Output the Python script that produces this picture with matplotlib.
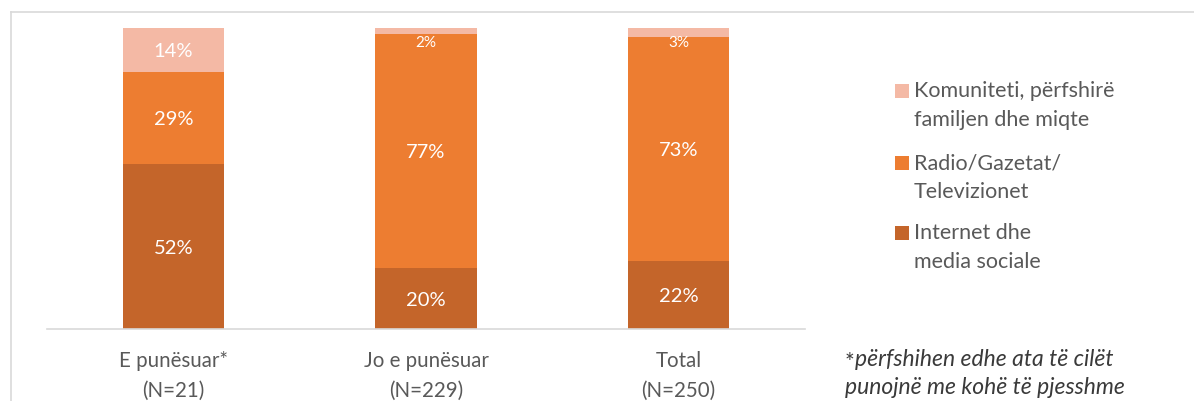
import matplotlib.pyplot as plt
import numpy as np
from matplotlib.patches import Rectangle
from matplotlib.lines import Line2D

plt.rcParams['font.family'] = ['Lato', 'DejaVu Sans']

# data
categories = ['E punësuar*\n(N=21)', 'Jo e punësuar\n(N=229)', 'Total\n(N=250)']
series_names = ['Internet dhe\nmedia sociale', 'Radio/Gazetat/\nTelevizionet',
                'Komuniteti, përfshirë\nfamiljen dhe miqte']
internet = [52, 20, 22]
radio = [29, 77, 73]
komuniteti = [14, 2, 3]
colors = ['#C4652A', '#ED7D31', '#F4B9A5']

fig = plt.figure(figsize=(11.94, 4.01), dpi=100)
ax = fig.add_axes([47 / 1194, 1 - 329 / 401, (805 - 47) / 1194, (329 - 28) / 401])

values = np.array([internet, radio, komuniteti], dtype=float)
totals = values.sum(axis=0)
shares = values / totals
x = np.arange(len(categories))
bottom = np.zeros(len(categories))
for i in range(3):
    ax.bar(x, shares[i], bottom=bottom, width=0.4, color=colors[i], linewidth=0)
    for j in range(len(categories)):
        h = shares[i][j]
        yc = bottom[j] + h / 2
        if h < 0.05:
            yc = bottom[j] + h - 0.045
        ax.text(x[j], yc, f'{int(values[i][j])}%', ha='center', va='center_baseline',
                color='white', fontsize=14.5 if h >= 0.05 else 11)
    bottom += shares[i]

ax.set_xlim(-0.5, 2.5)
ax.set_ylim(0, 1)
ax.set_yticks([])
ax.set_xticks(x)
ax.set_xticklabels(categories, fontsize=14.8, color='#595959', linespacing=1.6)
ax.tick_params(axis='x', length=0, pad=16)
for s in ['top', 'right', 'left']:
    ax.spines[s].set_visible(False)
ax.spines['bottom'].set_color('#D9D9D9')
ax.spines['bottom'].set_linewidth(1.2)

# legend (drawn by hand so the square sits on the first line)
legend_y = [91, 163, 233]
for k, idx in enumerate([2, 1, 0]):
    yy = 1 - legend_y[k] / 401
    fig.add_artist(Rectangle((895 / 1194, yy - 7 / 401), 14 / 1194, 14 / 401,
                             transform=fig.transFigure, color=colors[idx], lw=0))
    fig.text(914 / 1194, yy + 10 / 401, series_names[idx], ha='left', va='top',
             fontsize=15.5, color='#595959', linespacing=1.55)

# footnote
fig.text(845 / 1194, 1 - 362 / 401, '*', ha='left', va='center', fontsize=16.5,
         color='#3a3a3a')
fig.text(855 / 1194, 1 - 360 / 401, 'përfshihen edhe ata të cilët', ha='left', va='center',
         fontsize=16.5, color='#3a3a3a', style='italic')
fig.text(845 / 1194, 1 - 388 / 401, 'punojnë me kohë të pjesshme', ha='left', va='center',
         fontsize=16.5, color='#3a3a3a', style='italic')

# outer frame (cropped)
fig.add_artist(Line2D([11 / 1194, 11 / 1194], [0, 1 - 12 / 401], transform=fig.transFigure,
                      color='#D9D9D9', lw=1.2))
fig.add_artist(Line2D([11 / 1194, 1], [1 - 12 / 401, 1 - 12 / 401], transform=fig.transFigure,
                      color='#D9D9D9', lw=1.2))

fig.savefig('out.png', dpi=100)
